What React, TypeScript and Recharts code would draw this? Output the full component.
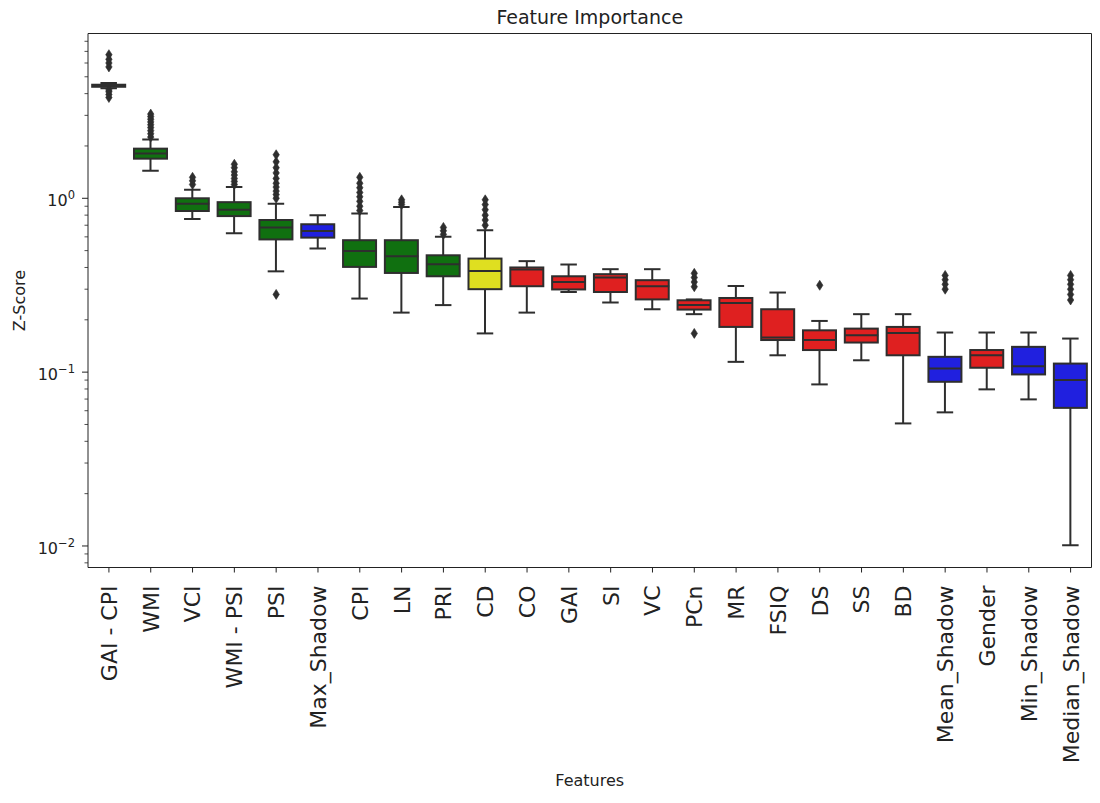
import React from 'react';
import { ComposedChart, Bar, Scatter, XAxis, YAxis } from 'recharts';

// ---------- data ----------
const categories = [
  'GAI - CPI', 'WMI', 'VCI', 'WMI - PSI', 'PSI', 'Max_Shadow', 'CPI', 'LN', 'PRI', 'CD', 'CO', 'GAI',
  'SI', 'VC', 'PCn', 'MR', 'FSIQ', 'DS', 'SS', 'BD', 'Mean_Shadow', 'Gender', 'Min_Shadow', 'Median_Shadow',
];

const status = [
  'Confirmed', 'Confirmed', 'Confirmed', 'Confirmed', 'Confirmed', 'Shadow', 'Confirmed', 'Confirmed', 'Confirmed',
  'Tentative', 'Rejected', 'Rejected', 'Rejected', 'Rejected', 'Rejected', 'Rejected', 'Rejected', 'Rejected',
  'Rejected', 'Rejected', 'Shadow', 'Rejected', 'Shadow', 'Shadow',
];

const whiskerLow = [
  4.3, 1.44, 0.76, 0.63, 0.38, 0.514, 0.265, 0.22, 0.243, 0.167, 0.22, 0.289,
  0.2515, 0.23, 0.2155, 0.1146, 0.125, 0.085, 0.117, 0.0507, 0.0587, 0.0796, 0.0697, 0.0101,
];
const q1 = [
  4.38, 1.69, 0.845, 0.79, 0.58, 0.594, 0.403, 0.372, 0.356, 0.3, 0.312, 0.299,
  0.289, 0.262, 0.229, 0.182, 0.153, 0.134, 0.148, 0.125, 0.088, 0.106, 0.097, 0.0623,
];
const median = [
  4.45, 1.81, 0.93, 0.86, 0.68, 0.649, 0.498, 0.464, 0.418, 0.382, 0.39, 0.33,
  0.35, 0.312, 0.243, 0.25, 0.158, 0.153, 0.163, 0.168, 0.105, 0.125, 0.108, 0.09,
];
const q3 = [
  4.5, 1.93, 1.0, 0.95, 0.75, 0.709, 0.574, 0.574, 0.47, 0.45, 0.4, 0.356,
  0.366, 0.338, 0.259, 0.267, 0.23, 0.174, 0.178, 0.182, 0.1225, 0.134, 0.1398, 0.112,
];
const whiskerHigh = [
  4.6, 2.18, 1.12, 1.16, 0.93, 0.8, 0.817, 0.89, 0.6, 0.655, 0.435, 0.416,
  0.391, 0.391, 0.262, 0.313, 0.287, 0.197, 0.2155, 0.2155, 0.169, 0.169, 0.169, 0.156,
];
const outliers: number[][] = [
  [3.8, 3.95, 4.1, 4.2, 5.7, 6.0, 6.3, 6.7],
  [2.25, 2.35, 2.45, 2.55, 2.65, 2.75, 2.85, 2.95, 3.05],
  [1.2, 1.26, 1.32],
  [1.2, 1.25, 1.3, 1.36, 1.42, 1.5, 1.57],
  [0.28, 1.0, 1.05, 1.1, 1.16, 1.22, 1.3, 1.4, 1.5, 1.62, 1.78],
  [],
  [0.85, 0.9, 0.96, 1.02, 1.08, 1.15, 1.22, 1.32],
  [0.92, 0.95, 0.98],
  [0.62, 0.65, 0.68],
  [0.7, 0.75, 0.8, 0.86, 0.92, 0.98],
  [],
  [],
  [],
  [],
  [0.167, 0.31, 0.33, 0.35, 0.37],
  [],
  [],
  [0.316],
  [],
  [],
  [0.3, 0.32, 0.34, 0.36],
  [],
  [],
  [0.26, 0.28, 0.3, 0.32, 0.34, 0.36],
];

const majorTicks = [0.01, 0.1, 1];
const majorLabels = ['\u22122', '\u22121', '0'];
const minorTicks = [
  0.008, 0.009,
  0.02, 0.03, 0.04, 0.05, 0.06, 0.07, 0.08, 0.09,
  0.2, 0.3, 0.4, 0.5, 0.6, 0.7, 0.8, 0.9,
  2, 3, 4, 5, 6, 7, 8,
];

// ---------- styles ----------
const statusColors: Record<string, string> = {
  Confirmed: '#107010',
  Tentative: '#dfdf20',
  Rejected: '#df2020',
  Shadow: '#2020df',
};
const EDGE = '#2e2e2e';
const AXIS = '#222222';
const FONT = '"DejaVu Sans", sans-serif';
const Y_MIN = 0.00752;
const Y_MAX = 8.87;
const BOX_HALF = 16.7;

// ---------- derived tables ----------
const rows = categories.map((name, i) => ({
  name,
  whisker: [whiskerLow[i], whiskerHigh[i]],
  box: [q1[i], q3[i]],
  color: statusColors[status[i]],
}));

const points = [
  ...categories.map((name, i) => ({ name, v: median[i], kind: 'median' })),
  ...categories.flatMap((name, i) => outliers[i].map((v) => ({ name, v, kind: 'outlier' }))),
];

const allTicks = [...majorTicks, ...minorTicks].sort((a, b) => a - b);

// ---------- shapes ----------
const WhiskerShape = (props: any) => {
  const { x, y, width, height } = props;
  const top = Math.min(y, y + height);
  const bot = Math.max(y, y + height);
  const cx = x + width / 2;
  const cap = width / 4;
  return (
    <g>
      <line x1={cx} x2={cx} y1={top} y2={bot} stroke={EDGE} strokeWidth={2} />
      <line x1={cx - cap} x2={cx + cap} y1={top} y2={top} stroke={EDGE} strokeWidth={2} />
      <line x1={cx - cap} x2={cx + cap} y1={bot} y2={bot} stroke={EDGE} strokeWidth={2} />
    </g>
  );
};

const BoxShape = (props: any) => {
  const { x, y, width, height, payload } = props;
  const top = Math.min(y, y + height);
  const h = Math.abs(height);
  return <rect x={x} y={top} width={width} height={h} fill={payload.color} stroke={EDGE} strokeWidth={2} />;
};

const PointShape = (props: any) => {
  const { cx, cy, payload } = props;
  if (cx == null || cy == null) return <g />;
  if (payload.kind === 'median') {
    return <line x1={cx - BOX_HALF} x2={cx + BOX_HALF} y1={cy} y2={cy} stroke={EDGE} strokeWidth={2} />;
  }
  return (
    <polygon
      points={`${cx},${cy - 5} ${cx + 3.2},${cy} ${cx},${cy + 5} ${cx - 3.2},${cy}`}
      fill={EDGE}
      stroke={EDGE}
      strokeWidth={0.6}
    />
  );
};

const YTick = (props: any) => {
  const { x, y, payload } = props;
  const idx = majorTicks.indexOf(payload.value);
  if (idx >= 0) {
    return (
      <g>
        <line x1={x - 6} x2={x} y1={y} y2={y} stroke={AXIS} strokeWidth={1} />
        <text x={x - 13} y={y + 8} textAnchor="end" fontFamily={FONT} fontSize={16} fill={AXIS}>
          10
          <tspan dy={-7} fontSize={11.5}>{majorLabels[idx]}</tspan>
        </text>
      </g>
    );
  }
  return <line x1={x - 3.5} x2={x} y1={y} y2={y} stroke={AXIS} strokeWidth={0.8} />;
};

const XTick = (props: any) => {
  const { x, y, payload } = props;
  const ty = y + 18;
  return (
    <g>
      <line x1={x} x2={x} y1={y} y2={y + 5} stroke={AXIS} strokeWidth={1} />
      <text
        x={x}
        y={ty}
        transform={`rotate(-90, ${x}, ${ty})`}
        textAnchor="end"
        dy="0.36em"
        fontFamily={FONT}
        fontSize={22}
        fill={AXIS}
      >
        {payload.value}
      </text>
    </g>
  );
};

export default function App() {
  return (
    <div style={{ marginTop: -8, width: 1092, height: 800 }}>
      <ComposedChart
        width={1092}
        height={800}
        data={rows}
        margin={{ top: 32.5, right: 7.5, bottom: 0, left: 0 }}
        barCategoryGap="10%"
      >
        <XAxis
          xAxisId="main"
          dataKey="name"
          type="category"
          height={232.5}
          interval={0}
          tickSize={0}
          tickMargin={0}
          tickLine={false}
          tick={<XTick />}
          axisLine={{ stroke: AXIS, strokeWidth: 1 }}
          label={{
            content: (p: any) => {
              const vb = p.viewBox || {};
              return (
                <text
                  x={vb.x + vb.width / 2}
                  y={vb.y + 218.5}
                  textAnchor="middle"
                  fontFamily={FONT}
                  fontSize={16}
                  fill={AXIS}
                >
                  Features
                </text>
              );
            },
          }}
        />
        <XAxis xAxisId="w" dataKey="name" type="category" hide />
        <XAxis xAxisId="s" dataKey="name" type="category" allowDuplicatedCategory={false} hide />
        <XAxis
          xAxisId="top"
          orientation="top"
          dataKey="name"
          type="category"
          height={1}
          tick={false}
          tickLine={false}
          axisLine={{ stroke: AXIS, strokeWidth: 1 }}
          label={{
            content: (p: any) => {
              const vb = p.viewBox || {};
              return (
                <text
                  x={vb.x + vb.width / 2}
                  y={vb.y - 8.5}
                  textAnchor="middle"
                  fontFamily={FONT}
                  fontSize={19}
                  fill={AXIS}
                >
                  Feature Importance
                </text>
              );
            },
          }}
        />
        <YAxis
          type="number"
          scale="log"
          domain={[Y_MIN, Y_MAX]}
          allowDataOverflow
          ticks={allTicks}
          interval={0}
          width={80}
          tickSize={0}
          tickMargin={0}
          tickLine={false}
          tick={<YTick />}
          axisLine={{ stroke: AXIS, strokeWidth: 1 }}
          label={{
            content: (p: any) => {
              const vb = p.viewBox || {};
              const cy = vb.y + vb.height / 2;
              return (
                <text
                  x={11}
                  y={cy}
                  transform={`rotate(-90, 11, ${cy})`}
                  textAnchor="middle"
                  dominantBaseline="central"
                  fontFamily={FONT}
                  fontSize={16}
                  fill={AXIS}
                >
                  Z-Score
                </text>
              );
            },
          }}
        />
        <YAxis
          yAxisId="r"
          orientation="right"
          width={1}
          domain={[0, 1]}
          tick={false}
          tickLine={false}
          axisLine={{ stroke: AXIS, strokeWidth: 1 }}
        />
        <Bar xAxisId="w" dataKey="whisker" shape={<WhiskerShape />} isAnimationActive={false} />
        <Bar xAxisId="main" dataKey="box" shape={<BoxShape />} isAnimationActive={false} />
        <Scatter xAxisId="s" data={points} dataKey="v" shape={<PointShape />} isAnimationActive={false} />
      </ComposedChart>
    </div>
  );
}
